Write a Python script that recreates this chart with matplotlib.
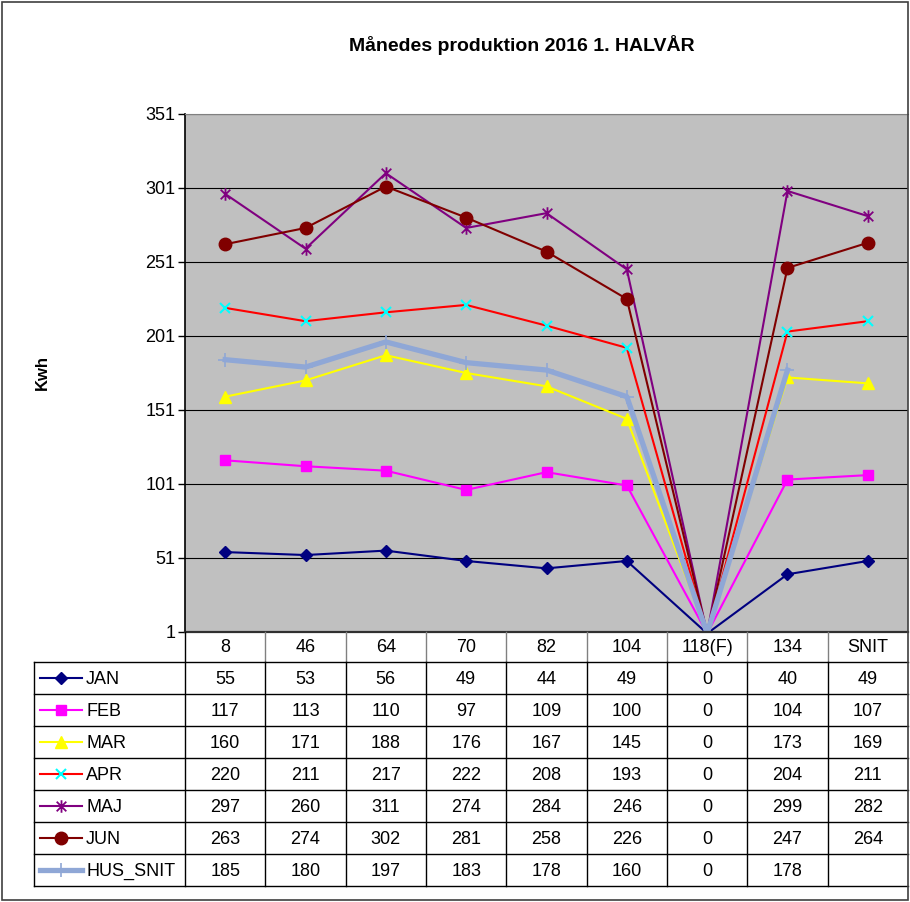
import numpy as np
import matplotlib
matplotlib.use("Agg")
import matplotlib.pyplot as plt
from matplotlib.path import Path
from matplotlib.patches import Rectangle
from matplotlib.lines import Line2D

plt.rcParams["font.family"] = ["Liberation Sans", "DejaVu Sans"]

# --- data -------------------------------------------------------------
categories = ["8", "46", "64", "70", "82", "104", "118(F)", "134", "SNIT"]
series_names = ["JAN", "FEB", "MAR", "APR", "MAJ", "JUN", "HUS_SNIT"]
jan = [55, 53, 56, 49, 44, 49, 0, 40, 49]
feb = [117, 113, 110, 97, 109, 100, 0, 104, 107]
mar = [160, 171, 188, 176, 167, 145, 0, 173, 169]
apr = [220, 211, 217, 222, 208, 193, 0, 204, 211]
maj = [297, 260, 311, 274, 284, 246, 0, 299, 282]
jun = [263, 274, 302, 281, 258, 226, 0, 247, 264]
hus_snit = [185, 180, 197, 183, 178, 160, 0, 178, None]
yticks = [1, 51, 101, 151, 201, 251, 301, 351]

star = Path([(-1, -1), (1, 1), (-1, 1), (1, -1), (0, -1.3), (0, 1.3)],
            [Path.MOVETO, Path.LINETO, Path.MOVETO, Path.LINETO,
             Path.MOVETO, Path.LINETO])

styles = [
    dict(color="#000080", marker="D", ms=6.5, mfc="#000080", mec="#000080", lw=1.5),
    dict(color="#FF00FF", marker="s", ms=7, mfc="#FF00FF", mec="#FF00FF", lw=1.5),
    dict(color="#FFFF00", marker="^", ms=8, mfc="#FFFF00", mec="#FFFF00", lw=1.5),
    dict(color="#FF0000", marker="x", ms=7.5, mfc="#00FFFF", mec="#00FFFF", lw=1.5, mew=1.5),
    dict(color="#800080", marker=star, ms=9, mfc="#800080", mec="#800080", lw=1.5, mew=1.3),
    dict(color="#800000", marker="o", ms=9, mfc="#800000", mec="#800000", lw=1.5),
    dict(color="#8FA7D6", marker="+", ms=10, mfc="#8FA7D6", mec="#8FA7D6", lw=3.8, mew=1.2),
]

W, H = 910, 902
fig = plt.figure(figsize=(W / 100, H / 100), dpi=100)

# pixel helpers
PL, PR, PT, PB = 185, 908, 114, 632


def fx(px):
    return px / W


def fy(py):
    return 1 - py / H


ax = fig.add_axes([fx(PL), fy(PB), fx(PR) - fx(PL), fy(PT) - fy(PB)])
ax.set_facecolor("#C0C0C0")
x = np.arange(len(categories))
all_series = [jan, feb, mar, apr, maj, jun, hus_snit]
for name, vals, st in zip(series_names, all_series, styles):
    y = np.array([np.nan if v is None else v for v in vals], dtype=float)
    shown = [i for i, v in enumerate(y) if not np.isnan(v) and v >= yticks[0]]
    ax.plot(x, y, markevery=shown, label=name, **st)

ax.set_xlim(-0.5, len(categories) - 0.5)
ax.set_ylim(yticks[0], yticks[-1])
ax.set_yticks(yticks)
ax.set_xticks([])
ax.yaxis.grid(True, color="black", lw=0.8)
ax.set_axisbelow(True)
ax.tick_params(axis="y", labelsize=13, length=5, width=1, direction="out", pad=2)
for s in ["right", "bottom"]:
    ax.spines[s].set_visible(False)
ax.spines["top"].set_color("#808080")
ax.spines["left"].set_color("black")
ax.spines["left"].set_linewidth(1.2)

# --- table overlay (pixel coordinates) -------------------------------
tab = fig.add_axes([0, 0, 1, 1])
tab.set_xlim(0, W)
tab.set_ylim(H, 0)
tab.axis("off")
tab.patch.set_alpha(0)

colw = (PR - PL) / len(categories)
row_top = 662
row_h = 32.05
tleft = 34
legend_x0, legend_x1 = 40, 82

# header row
tab.plot([PL, PR], [PB, PB], color="#303030", lw=1.6)
for i, c in enumerate(categories):
    cx = PL + (i + 0.5) * colw
    tab.text(cx, (PB + row_top) / 2 + 1, c, ha="center", va="center", fontsize=13)
for i in range(1, len(categories)):
    tab.plot([PL + i * colw] * 2, [PB, row_top], color="#808080", lw=1)

n = len(series_names)
for r in range(n + 1):
    yy = row_top + r * row_h
    tab.plot([tleft, PR], [yy, yy], color="black", lw=1)
bottom = row_top + n * row_h
tab.plot([tleft, tleft], [row_top, bottom], color="black", lw=1)
tab.plot([PL, PL], [PB, bottom], color="black", lw=1)
for i in range(1, len(categories)):
    tab.plot([PL + i * colw] * 2, [row_top, bottom], color="black", lw=1)

for r, (name, vals, st) in enumerate(zip(series_names, all_series, styles)):
    cy = row_top + (r + 0.5) * row_h
    tab.add_line(Line2D([legend_x0, legend_x1], [cy, cy],
                        color=st["color"], lw=st["lw"]))
    mst = {k: v for k, v in st.items() if k not in ("color", "lw")}
    tab.plot([(legend_x0 + legend_x1) / 2], [cy], ls="none", **mst)
    tab.text(86, cy + 1, name, ha="left", va="center", fontsize=13)
    for i, v in enumerate(vals):
        if v is None:
            continue
        tab.text(PL + (i + 0.5) * colw, cy + 1, str(v), ha="center", va="center",
                 fontsize=13)

# titles
fig.text(fx(522), fy(45), "Månedes produktion 2016 1. HALVÅR", ha="center",
         va="center", fontsize=14, fontweight="bold")
fig.text(fx(42), fy(373), "Kwh", ha="center", va="center", rotation=90,
         fontsize=12, fontweight="bold")

# chart border
fig.patches.append(Rectangle((fx(2), fy(900)), fx(908) - fx(2), fy(2) - fy(900),
                             transform=fig.transFigure, fill=False,
                             edgecolor="#404040", lw=1.2))

fig.savefig("out.png", dpi=100)
